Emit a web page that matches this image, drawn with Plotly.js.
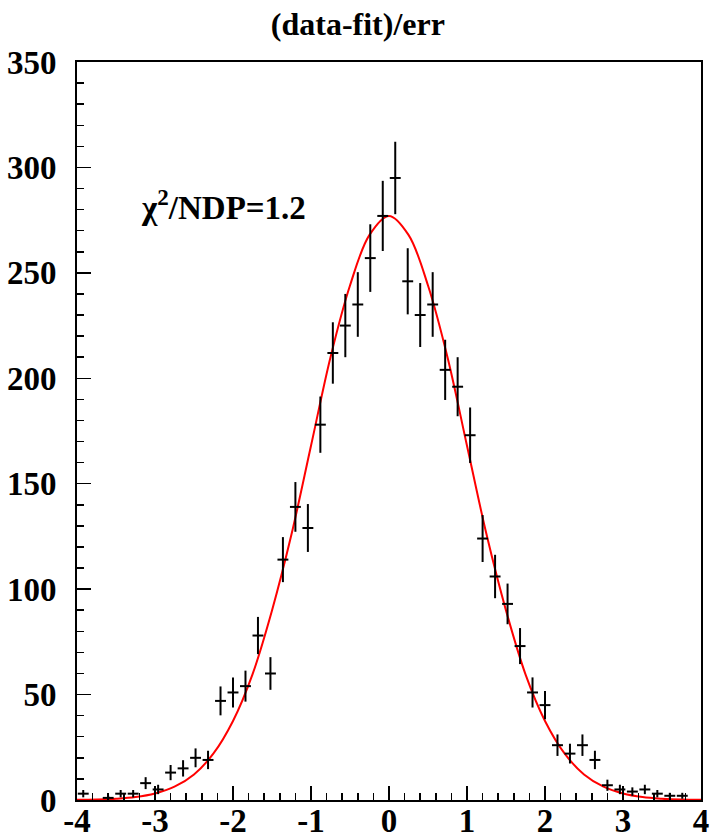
<!DOCTYPE html>
<html>
<head>
<meta charset="utf-8">
<script src="https://cdn.plot.ly/plotly-3.0.1.min.js"></script>
<style>html,body{margin:0;padding:0;background:#fff;}#chart{width:710px;height:840px;}</style>
</head>
<body>
<div id="chart"></div>
<script>
// Histogram bin centres (bin width 0.16) and counts
const binCenters = [-3.92,-3.76,-3.60,-3.44,-3.28,-3.12,-2.96,-2.80,-2.64,-2.48,
                    -2.32,-2.16,-2.00,-1.84,-1.68,-1.52,-1.36,-1.20,-1.04,-0.88,
                    -0.72,-0.56,-0.40,-0.24,-0.08,0.08,0.24,0.40,0.56,0.72,
                    0.88,1.04,1.20,1.36,1.52,1.68,1.84,2.00,2.16,2.32,
                    2.48,2.64,2.80,2.96,3.12,3.28,3.44,3.60,3.76,3.92];
const counts = [3,null,1,3,3,8,5,13,15,20,
                19,47,51,54,78,60,114,139,129,178,
                212,225,235,257,277,295,246,230,235,204,
                196,173,124,106,93,73,51,45,26,22,
                26,19,7,5,4,5,3,2,2,null];
const halfBin = [0.07];

// Fitted curve
const fitX = [-4,-3.75,-3.5,-3.25,-3,-2.75,-2.5,-2.25,-2,-1.75,-1.5,-1.25,-1,-0.75,-0.5,-0.25,0,
              0.25,0.5,0.75,1,1.25,1.5,1.75,2,2.25,2.5,2.75,3,3.25,3.5,3.75,4];
const fitY = [0.1,0.2,0.6,1.4,3.1,6.3,12.1,22.1,37.5,59.6,89.9,126,168,210,244,268,277,
              268,244,210,168,126,89.9,59.6,37.5,22.1,12.1,6.3,3.1,1.4,0.6,0.2,0.1];

const xTickVals = [-4,-3,-2,-1,0,1,2,3,4];
const xTickText = ['-4','-3','-2','-1','0','1','2','3','4'];
const yTickVals = [0,50,100,150,200,250,300,350];
const yTickText = ['0','50','100','150','200','250','300','350'];

const serif = 'Liberation Serif';

const traces = [
  {
    x: fitX, y: fitY, type: 'scatter', mode: 'lines',
    line: {color: '#ff0000', width: 2, shape: 'spline', smoothing: 1},
    hoverinfo: 'skip', showlegend: false
  },
  {
    x: binCenters, y: counts, type: 'scatter', mode: 'markers',
    marker: {size: 1, color: 'black', opacity: 0},
    error_y: {type: 'sqrt', width: 0, thickness: 2, color: 'black'},
    error_x: {type: 'constant', value: halfBin[0], width: 0, thickness: 2, color: 'black'},
    showlegend: false
  }
];

const layout = {
  width: 710, height: 840,
  margin: {l: 77, r: 9, t: 62, b: 40},
  paper_bgcolor: 'white', plot_bgcolor: 'white',
  showlegend: false,
  font: {family: serif, color: 'black'},
  title: {
    text: '<b>(data-fit)/err</b>',
    x: 0.504, xref: 'container', xanchor: 'center',
    y: 0.972, yref: 'container', yanchor: 'middle',
    font: {family: serif, size: 32, color: 'black'}
  },
  xaxis: {
    range: [-4, 4], showgrid: false, zeroline: false,
    showline: true, linecolor: 'black', linewidth: 2, mirror: true,
    ticks: 'inside', ticklen: 14, tickwidth: 1.5, tickcolor: 'black',
    tickmode: 'array', tickvals: xTickVals, ticktext: xTickText.map(t => '<b>' + t + '</b>'),
    tickfont: {family: serif, size: 33, color: 'black'},
    minor: {dtick: 0.2, ticks: 'inside', ticklen: 7, tickwidth: 1.5, tickcolor: 'black', showgrid: false},
    ticklabelstandoff: -10
  },
  yaxis: {
    range: [0, 350], showgrid: false, zeroline: false,
    showline: true, linecolor: 'black', linewidth: 2, mirror: true,
    ticks: 'inside', ticklen: 14, tickwidth: 1.5, tickcolor: 'black',
    tickmode: 'array', tickvals: yTickVals, ticktext: yTickText.map(t => '<b>' + t + '</b>'),
    tickfont: {family: serif, size: 33, color: 'black'},
    minor: {dtick: 10, ticks: 'inside', ticklen: 7, tickwidth: 1.5, tickcolor: 'black', showgrid: false},
    ticklabelstandoff: 12
  },
  annotations: [{
    text: '<b>χ<sup>2</sup>/NDP=1.2</b>',
    x: -3.2, y: 282, xref: 'x', yref: 'y',
    xanchor: 'left', yanchor: 'middle', showarrow: false,
    font: {family: serif, size: 33, color: 'black'}
  }]
};

Plotly.newPlot('chart', traces, layout, {staticPlot: true, displayModeBar: false});
</script>
</body>
</html>
